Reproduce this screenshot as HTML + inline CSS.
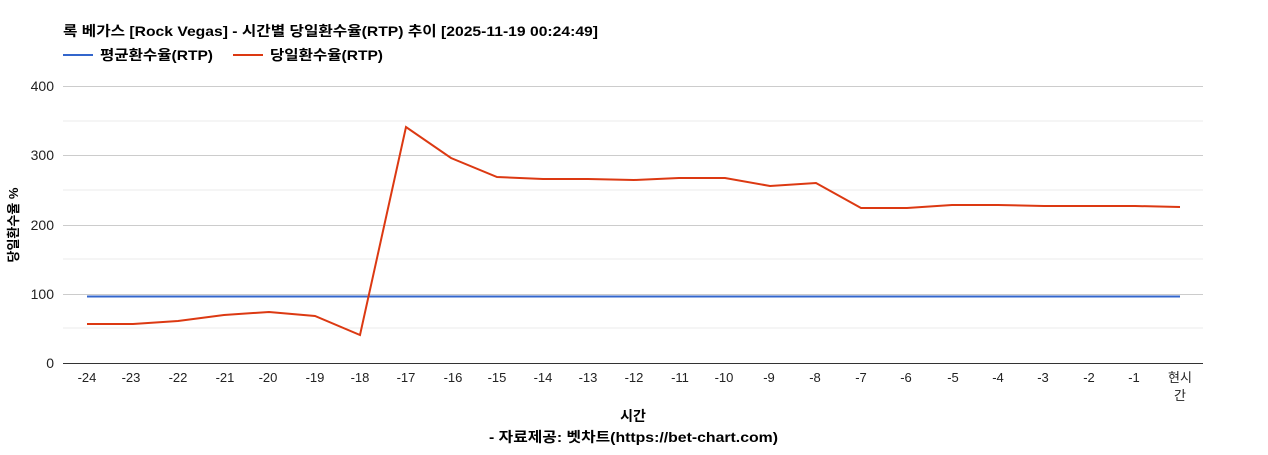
<!DOCTYPE html>
<html><head><meta charset="utf-8"><style>
body{margin:0;background:#fff;}
svg text{font-family:"Liberation Sans","Noto Sans CJK KR",sans-serif;}
</style></head><body>
<svg width="1268" height="450" xmlns="http://www.w3.org/2000/svg">
<text x="63" y="36" font-size="14" font-weight="bold" fill="#000" textLength="535" lengthAdjust="spacingAndGlyphs">록 베가스 [Rock Vegas] - 시간별 당일환수율(RTP) 추이 [2025-11-19 00:24:49]</text>
<line x1="63" y1="55" x2="93" y2="55" stroke="#3366cc" stroke-width="2"/>
<text x="100" y="60" font-size="14" font-weight="bold" textLength="113" lengthAdjust="spacingAndGlyphs">평균환수율(RTP)</text>
<line x1="233" y1="55" x2="263" y2="55" stroke="#dc3912" stroke-width="2"/>
<text x="270" y="60" font-size="14" font-weight="bold" textLength="113" lengthAdjust="spacingAndGlyphs">당일환수율(RTP)</text>
<g stroke="#ebebeb" stroke-width="1">
<line x1="63" y1="121" x2="1203" y2="121"/><line x1="63" y1="190" x2="1203" y2="190"/>
<line x1="63" y1="259" x2="1203" y2="259"/><line x1="63" y1="328" x2="1203" y2="328"/>
</g>
<g stroke="#cccccc" stroke-width="1">
<line x1="63" y1="86.5" x2="1203" y2="86.5"/><line x1="63" y1="155.5" x2="1203" y2="155.5"/>
<line x1="63" y1="225.5" x2="1203" y2="225.5"/><line x1="63" y1="294.5" x2="1203" y2="294.5"/>
</g>
<line x1="63" y1="363.5" x2="1203" y2="363.5" stroke="#333" stroke-width="1"/>
<g font-size="14" text-anchor="end" fill="#222">
<text x="54" y="91">400</text><text x="54" y="160">300</text><text x="54" y="230">200</text>
<text x="54" y="299">100</text><text x="54" y="368">0</text>
</g>
<text transform="translate(18,225) rotate(-90)" font-size="13" font-weight="bold" text-anchor="middle">당일환수율 %</text>
<g font-size="13" text-anchor="middle" fill="#222">
<text x="87" y="382">-24</text><text x="131" y="382">-23</text><text x="178" y="382">-22</text>
<text x="225" y="382">-21</text><text x="268" y="382">-20</text><text x="315" y="382">-19</text>
<text x="360" y="382">-18</text><text x="406" y="382">-17</text><text x="453" y="382">-16</text>
<text x="497" y="382">-15</text><text x="543" y="382">-14</text><text x="588" y="382">-13</text>
<text x="634" y="382">-12</text><text x="680" y="382">-11</text><text x="724" y="382">-10</text>
<text x="769" y="382">-9</text><text x="815" y="382">-8</text><text x="861" y="382">-7</text>
<text x="906" y="382">-6</text><text x="953" y="382">-5</text><text x="998" y="382">-4</text>
<text x="1043" y="382">-3</text><text x="1089" y="382">-2</text><text x="1134" y="382">-1</text>
<text x="1180" y="382">현시</text><text x="1180" y="400">간</text>
</g>
<text x="633" y="421" font-size="14" font-weight="bold" text-anchor="middle">시간</text>
<text x="489" y="442" font-size="14" font-weight="bold" textLength="289" lengthAdjust="spacingAndGlyphs">- 자료제공: 벳차트(https://bet-chart.com)</text>
<line x1="87" y1="296.5" x2="1180" y2="296.5" stroke="#3366cc" stroke-width="2"/>
<polyline fill="none" stroke="#dc3912" stroke-width="2" points="87,324 133,324 178,321 224,315 269,312 315,316 360,335 406,127 451,158 497,177 543,179 588,179 634,180 679,178 725,178 770,186 816,183 861,208 907,208 952,205 998,205 1044,206 1089,206 1135,206 1180,207"/>
</svg>
</body></html>
